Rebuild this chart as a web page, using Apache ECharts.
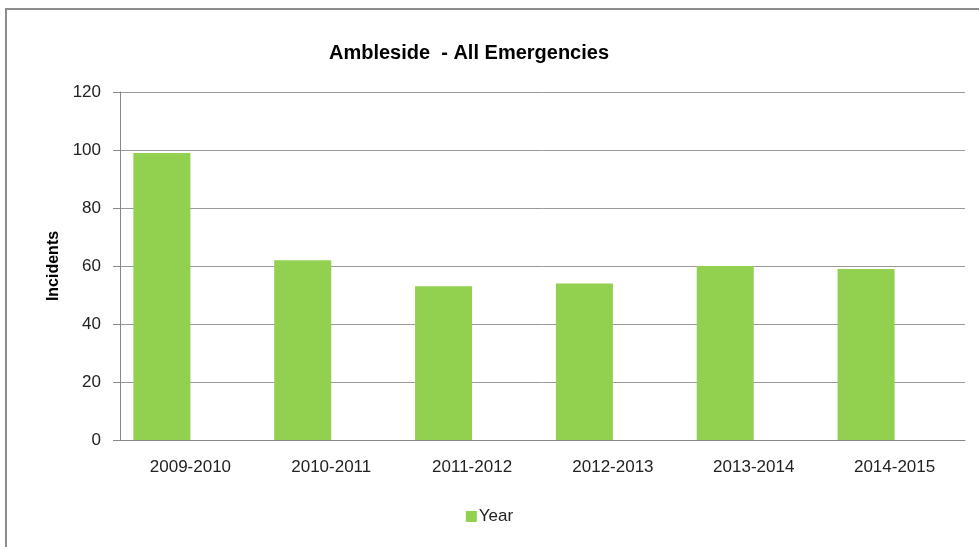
<!DOCTYPE html>
<html>
<head>
<meta charset="utf-8">
<script src="https://cdn.jsdelivr.net/npm/echarts@6/dist/echarts.min.js"></script>
<style>
  html, body { margin: 0; padding: 0; background: #fff; }
  #main { width: 979px; height: 547px; }
</style>
</head>
<body>
<div id="main"></div>
<script>
// chart data
var years = ['2009-2010', '2010-2011', '2011-2012', '2012-2013', '2013-2014', '2014-2015'];
var incidents = [99, 62, 53, 54, 60, 59];
var emptySeries = [null, null, null, null, null, null];

var chart = echarts.init(document.getElementById('main'));
var font = 'Liberation Sans, Arial, sans-serif';

chart.setOption({
    animation: false,
    title: {
        text: 'Ambleside  - All Emergencies',
        left: 464,
        top: 38,
        textAlign: 'center',
        textStyle: { fontFamily: font, fontSize: 20, fontWeight: 'bold', color: '#000' }
    },
    legend: {
        data: ['Year'],
        bottom: 17,
        left: 'center',
        itemWidth: 11,
        itemHeight: 11,
        itemGap: 4,
        icon: 'rect',
        textStyle: { fontFamily: font, fontSize: 17, color: '#222', padding: [0, 0, 0, -3] }
    },
    grid: { left: 120, right: 14, top: 92, bottom: 107 },
    xAxis: {
        type: 'category',
        data: years,
        axisLine: { lineStyle: { color: '#888', width: 1 } },
        axisTick: { show: false },
        axisLabel: { fontFamily: font, fontSize: 17, color: '#222', margin: 19 }
    },
    yAxis: {
        type: 'value',
        min: 0,
        max: 120,
        interval: 20,
        name: 'Incidents',
        nameLocation: 'middle',
        nameGap: 56,
        nameTextStyle: { fontFamily: font, fontSize: 16, fontWeight: 'bold', color: '#000' },
        axisLine: { show: true, lineStyle: { color: '#888' } },
        axisTick: { show: true, length: 7, lineStyle: { color: '#888' } },
        axisLabel: { fontFamily: font, fontSize: 17, color: '#222', margin: 19 },
        splitLine: { lineStyle: { color: '#999', width: 1 } }
    },
    series: [
        {
            name: 'Year',
            type: 'bar',
            data: incidents,
            barGap: '0%',
            barCategoryGap: '19%',
            itemStyle: { color: '#92D050' }
        },
        {
            name: 'blank',
            type: 'bar',
            data: emptySeries,
            itemStyle: { color: '#92D050' }
        }
    ],
    graphic: [{
        type: 'rect',
        shape: { x: 6, y: 9, width: 1000, height: 600 },
        style: { fill: 'none', stroke: '#8c8c8c', lineWidth: 2 },
        z: 100
    }]
});
</script>
</body>
</html>
